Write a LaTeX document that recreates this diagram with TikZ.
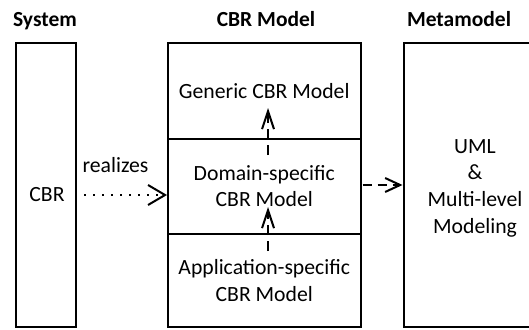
\documentclass[tikz,border=0pt]{standalone}
\usepackage{fontspec}
\setmainfont{Carlito}
\usetikzlibrary{arrows.meta}
\begin{document}
\begin{tikzpicture}[x=1pt,y=-1pt,
  box/.style={draw,line width=2pt,inner sep=0pt},
  txt/.style={font=\fontsize{21.7}{26.7}\selectfont,align=center,inner sep=0pt},
  head/.style={font=\fontsize{21.5}{26.7}\selectfont\bfseries,anchor=base,inner sep=0pt},
  realize/.style={line width=2pt,dash pattern=on 2pt off 7pt,
    -{Straight Barb[length=17pt,width=20pt,line width=2pt]}},
  dep/.style={line width=2pt,dash pattern=on 9pt off 6pt,
    -{Straight Barb[length=15pt,width=14pt,line width=2pt]}},
  refine/.style={line width=2pt,dash pattern=on 10pt off 6pt,
    -{Straight Barb[length=18pt,width=12pt,line width=2pt]}}]
\useasboundingbox (0,0) rectangle (529,329);

% column headings
\node[head] (hsys)  at (45,26.5)  {System};
\node[head] (hcbr)  at (266,26.5) {CBR Model};
\node[head] (hmeta) at (459,26.5) {Metamodel};

% system column
\node[box,minimum width=59.5pt,minimum height=283.5pt] (sys) at (45.75,185.25) {};
\node[txt] (systxt) at (47,195) {CBR};

% stacked CBR model layers
\node[box,txt,minimum width=192.5pt,minimum height=95pt] (gen) at (264.25,91) {Generic CBR Model};
\node[box,txt,minimum width=192.5pt,minimum height=95pt] (dom) at (264.25,186) {Domain-specific\\CBR Model};
\node[box,txt,minimum width=192.5pt,minimum height=93.5pt] (app) at (264.25,280.25) {Application-specific\\CBR Model};

% metamodel column (its right side runs past the page edge)
\node[box,minimum width=127.5pt,minimum height=283.5pt] (meta) at (467.25,185.25) {};
\node[txt] (metatxt) at (475,188) {UML\\\&\\Multi-level\\Modeling};

% connectors
\draw[realize] ([xshift=7.5pt,yshift=-9.75pt]sys.east) -- ([yshift=-9pt]dom.west);
\node[txt,anchor=base] (rlbl) at (115.5,172.7) {realizes};
\draw[dep] ([xshift=1pt,yshift=1pt]dom.east) -- ([yshift=0.25pt]meta.west);
\draw[refine] ([xshift=3.75pt,yshift=-18.5pt]app.north) -- ([xshift=3.75pt,yshift=-21pt]dom.center);
\draw[refine] ([xshift=3.75pt,yshift=-17.5pt]dom.north) -- ([xshift=3.75pt,yshift=-17pt]gen.center);
\end{tikzpicture}
\end{document}
